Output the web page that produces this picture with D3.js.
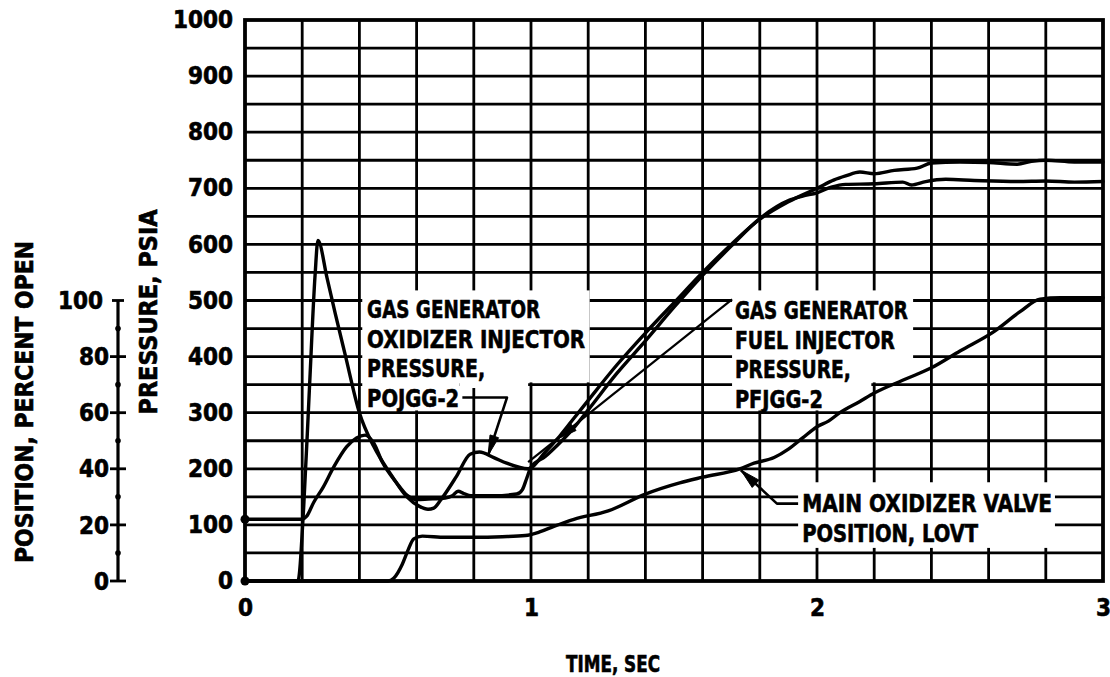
<!DOCTYPE html>
<html><head><meta charset="utf-8">
<script src="https://cdn.jsdelivr.net/npm/d3@7"></script>
<style>
html,body{margin:0;padding:0;background:#fff;}
svg{display:block;}
text{font-family:'DejaVu Sans Condensed','DejaVu Sans',sans-serif;font-weight:bold;font-stretch:condensed;fill:#000;stroke:#000;stroke-width:0.6px;}
</style>
</head><body>
<svg id="c" width="1110" height="677"></svg>
<script>
// ---------------- DATA ----------------
const xTickValues = [0, 1, 2, 3];
const xTickLabels = ["0", "1", "2", "3"];
const pressureTicks = [0, 100, 200, 300, 400, 500, 600, 700, 800, 900, 1000];
const pressureLabels = ["0", "100", "200", "300", "400", "500", "600", "700", "800", "900", "1000"];
const percentTicks = [0, 20, 40, 60, 80, 100];
const percentMinor = [10, 30, 50, 70, 90];

// Gas generator oxidizer injector pressure, POJGG-2 (psia)
const tPOJGG = [0, 0.185, 0.205, 0.225, 0.245, 0.255, 0.287, 0.315, 0.35, 0.40, 0.45, 0.51, 0.566, 0.61, 0.64, 0.66, 0.685, 0.74, 0.787, 0.82, 0.87, 0.915, 0.99, 1.05, 1.1, 1.15, 1.2, 1.3, 1.4, 1.5, 1.6, 1.7, 1.8, 1.9, 2.0, 2.06, 2.1, 2.15, 2.2, 2.27, 2.35, 2.4, 2.5, 2.6, 2.7, 2.75, 2.8, 2.9, 3.0];
const pPOJGG = [0, 0, 130, 340, 545, 607, 540, 478, 404, 300, 240, 190, 150, 133, 128, 130, 145, 187, 226, 230, 220, 210, 200, 230, 258, 290, 322, 385, 442, 496, 550, 600, 645, 676, 700, 715, 722, 729, 726, 732, 736, 745, 747, 746, 743, 748, 750, 747, 747];

// Gas generator fuel injector pressure, PFJGG-2 (psia)
const tPFJGG = [0, 0.2, 0.215, 0.24, 0.273, 0.31, 0.355, 0.39, 0.42, 0.45, 0.48, 0.53, 0.566, 0.6, 0.64, 0.7, 0.725, 0.745, 0.765, 0.79, 0.87, 0.95, 0.97, 0.985, 1.0, 1.05, 1.1, 1.15, 1.2, 1.3, 1.4, 1.5, 1.6, 1.7, 1.8, 1.9, 1.95, 2.0, 2.05, 2.1, 2.2, 2.3, 2.33, 2.38, 2.45, 2.55, 2.7, 2.8, 2.9, 3.0];
const pPFJGG = [110, 110, 115, 140, 167, 203, 239, 255, 260, 246, 212, 175, 153, 145, 146, 148, 152, 160, 156, 152, 152, 155, 163, 183, 203, 222, 246, 273, 305, 370, 428, 488, 545, 597, 646, 678, 686, 692, 702, 707, 708, 711, 706, 712, 716, 714, 712, 713, 711, 712];

// Main oxidizer valve position, LOVT (percent open)
const tLOVT = [0, 0.5, 0.52, 0.55, 0.57, 0.59, 0.62, 0.7, 0.8, 0.9, 0.98, 1.03, 1.08, 1.15, 1.27, 1.4, 1.52, 1.6, 1.73, 1.78, 1.85, 1.9, 1.95, 2.0, 2.04, 2.08, 2.15, 2.2, 2.31, 2.4, 2.5, 2.62, 2.71, 2.78, 2.85, 3.0];
const pctLOVT = [0, 0, 1, 6, 11, 15, 16, 15.6, 15.6, 15.8, 16.2, 17.5, 19.5, 22, 25, 31, 35, 37, 40, 42, 44, 47, 51, 55, 57, 60, 64, 67, 72, 76, 82, 89, 96, 100.5, 101, 101];

const labelOx = ["GAS GENERATOR", "OXIDIZER INJECTOR", "PRESSURE,", "POJGG-2"];
const labelFuel = ["GAS GENERATOR", "FUEL INJECTOR", "PRESSURE,", "PFJGG-2"];
const labelLovt = ["MAIN OXIDIZER VALVE", "POSITION, LOVT"];
const xTitle = "TIME, SEC";
const yTitle = "PRESSURE, PSIA";
const y2Title = "POSITION, PERCENT OPEN";

// ---------------- CHART ----------------
const svg = d3.select("#c");
const x = d3.scaleLinear().domain([0, 3]).range([245, 1103]);
const y = d3.scaleLinear().domain([0, 1000]).range([581, 20]);
const yPct = d3.scaleLinear().domain([0, 100]).range([y(0), y(500)]);

const gridW = 2.8;
// grid
const grid = svg.append("g");
grid.selectAll("line.v").data(d3.range(1, 15).map(i => i * 0.2)).join("line")
  .attr("x1", d => x(d)).attr("x2", d => x(d)).attr("y1", y(0)).attr("y2", y(1000))
  .attr("stroke", "#000").attr("stroke-width", gridW);
grid.selectAll("line.h").data(d3.range(1, 20).map(i => i * 50)).join("line")
  .attr("x1", x(0)).attr("x2", x(3)).attr("y1", d => y(d)).attr("y2", d => y(d))
  .attr("stroke", "#000").attr("stroke-width", gridW);

// white label boxes (in data units)
const boxes = [
  [0.41, 1.205, 354, 518], [0.41, 0.75, 304, 356], [0.75, 0.99, 344, 356],
  [1.703, 2.336, 354, 518], [1.703, 2.19, 304, 356],
  [1.934, 2.832, 59, 176]
];
svg.append("g").selectAll("rect").data(boxes).join("rect")
  .attr("x", d => x(d[0])).attr("width", d => x(d[1]) - x(d[0]))
  .attr("y", d => y(d[3])).attr("height", d => y(d[2]) - y(d[3]))
  .attr("fill", "#fff");

// frame
svg.append("rect").attr("x", x(0)).attr("y", y(1000))
  .attr("width", x(3) - x(0)).attr("height", y(0) - y(1000))
  .attr("fill", "none").attr("stroke", "#000").attr("stroke-width", 3.8);

// axes labels
const fs = 24;
svg.append("g").attr("transform", `translate(${x(0)},0)`)
  .call(d3.axisLeft(y).tickValues(pressureTicks).tickFormat((d, i) => pressureLabels[i]).tickSize(0).tickPadding(12))
  .call(g => g.select(".domain").remove())
  .call(g => g.selectAll("text").attr("font-size", fs).style("font-family", null));
svg.append("g").attr("transform", `translate(0,${y(0)})`)
  .call(d3.axisBottom(x).tickValues(xTickValues).tickFormat((d, i) => xTickLabels[i]).tickSize(0).tickPadding(18))
  .call(g => g.select(".domain").remove())
  .call(g => g.selectAll("text").attr("font-size", fs).style("font-family", null));

// percent axis
const px = 118;
const pAxis = svg.append("g");
pAxis.append("line").attr("x1", px).attr("x2", px).attr("y1", yPct(0)).attr("y2", yPct(100))
  .attr("stroke", "#000").attr("stroke-width", 3.2);
pAxis.selectAll("line.t").data(percentTicks).join("line")
  .attr("x1", d => d === 100 ? px - 6 : px - 8).attr("x2", d => d === 100 ? px + 6 : px + 8)
  .attr("y1", d => yPct(d)).attr("y2", d => yPct(d))
  .attr("stroke", "#000").attr("stroke-width", 2.8);
pAxis.selectAll("circle").data(percentMinor).join("circle")
  .attr("cx", px).attr("cy", d => yPct(d)).attr("r", 2.8).attr("fill", "#000");
pAxis.selectAll("text").data(percentTicks).join("text")
  .attr("x", d => d === 100 ? px - 15 : px - 9).attr("y", d => yPct(d)).attr("dy", "0.36em")
  .attr("text-anchor", "end").attr("font-size", fs).text(d => d);

// titles
svg.append("text").attr("transform", `translate(${33},${402}) rotate(-90)`)
  .attr("text-anchor", "middle").attr("font-size", 24)
  .attr("textLength", 322).attr("lengthAdjust", "spacingAndGlyphs").text(y2Title);
svg.append("text").attr("transform", `translate(${157},${312}) rotate(-90)`)
  .attr("text-anchor", "middle").attr("font-size", 24)
  .attr("textLength", 205).attr("lengthAdjust", "spacingAndGlyphs").text(yTitle);
svg.append("text").attr("x", 613).attr("y", 672)
  .attr("text-anchor", "middle").attr("font-size", 23)
  .attr("textLength", 94).attr("lengthAdjust", "spacingAndGlyphs").text(xTitle);

// curves
const lineP = d3.line().curve(d3.curveMonotoneX);
function drawSeries(ts, vs, sc, w) {
  const pts = ts.map((t, i) => [x(t), sc(vs[i])]);
  svg.append("path").attr("d", lineP(pts)).attr("fill", "none")
    .attr("stroke", "#000").attr("stroke-width", w).attr("stroke-linejoin", "round").attr("stroke-linecap", "round");
}
drawSeries(tPFJGG, pPFJGG, y, 3.4);
drawSeries(tPOJGG, pPOJGG, y, 3.4);
drawSeries(tLOVT, pctLOVT, yPct, 3.4);

// start dots
svg.append("circle").attr("cx", x(0)).attr("cy", y(pPFJGG[0])).attr("r", 4.5).attr("fill", "#000");
svg.append("circle").attr("cx", x(0)).attr("cy", y(pPOJGG[0])).attr("r", 4.5).attr("fill", "#000");

// leaders & arrowheads
function arrowHead(tip, from, len, half) {
  const dx = tip[0] - from[0], dy = tip[1] - from[1];
  const L = Math.hypot(dx, dy), ux = dx / L, uy = dy / L;
  const bx = tip[0] - ux * len, by = tip[1] - uy * len;
  svg.append("path").attr("d", `M${tip[0]},${tip[1]}L${bx - uy * half},${by + ux * half}L${bx + uy * half},${by - ux * half}Z`)
    .attr("fill", "#000").attr("stroke", "#000").attr("stroke-width", 1);
}
function leader(pts, w) {
  svg.append("path").attr("d", d3.line()(pts)).attr("fill", "none")
    .attr("stroke", "#000").attr("stroke-width", w).attr("stroke-linejoin", "round");
}
// POJGG-2 leader
const oxL = [[x(0.76), y(327)], [x(0.916), y(327)], [x(0.85), y(224)]];
leader(oxL, 2.6);
arrowHead(oxL[2], oxL[1], 20, 4.5);
// PFJGG-2 leader
const fuL = [[x(1.703), y(502)], [x(0.99), y(212)]];
leader(fuL, 2.2);
arrowHead([x(1.092), y(253)], fuL[0], 20, 5);
// LOVT leader
const loL = [[x(1.934), yPct(27.6)], [x(1.86), yPct(27.6)], [x(1.734), yPct(39.5)]];
leader(loL, 2.6);
arrowHead(loL[2], loL[1], 20, 5);

// label texts
function labelBlock(lines, t0, psi0, widths, gap) {
  lines.forEach((s, i) => {
    svg.append("text").attr("x", x(t0)).attr("y", y(psi0) + i * gap)
      .attr("font-size", 25).attr("textLength", widths[i]).attr("lengthAdjust", "spacingAndGlyphs")
      .text(s);
  });
}
labelBlock(labelOx, 0.427, (581 - 318) / 0.561, [173, 218, 118, 92], 29.6);
labelBlock(labelFuel, 1.713, (581 - 319) / 0.561, [173, 160, 116, 88], 29.6);
labelBlock(labelLovt, 1.948, (581 - 512) / 0.561, [250, 176], 29.5);
</script>
</body></html>
